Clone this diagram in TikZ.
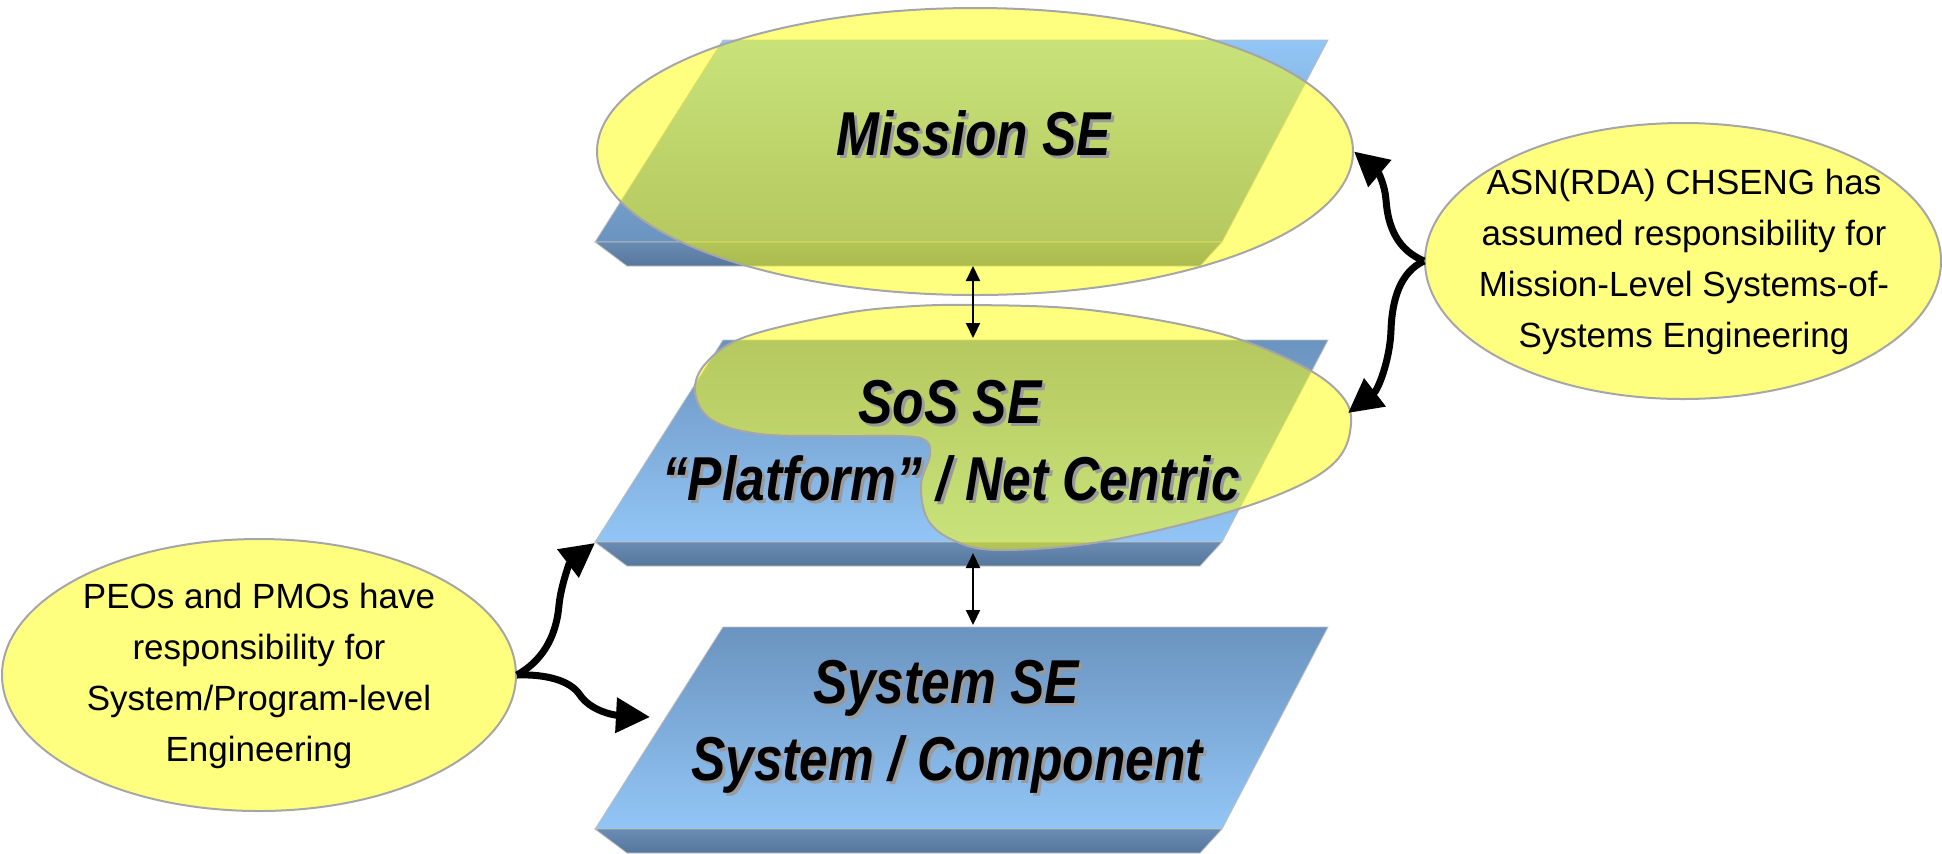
\documentclass[tikz,border=0pt]{standalone}
\usepackage{fontspec}
\setmainfont{Liberation Sans}
\newfontfamily\boxfont[FakeStretch=0.83]{Liberation Sans}
\usetikzlibrary{arrows.meta,shapes.geometric}

\definecolor{bluedark}{HTML}{6B93BF}
\definecolor{bluelight}{HTML}{92C6F6}
\definecolor{banddark}{HTML}{56779C}
\definecolor{bandlight}{HTML}{6A8CB3}
\definecolor{ellborder}{HTML}{A6A6A6}
\definecolor{shadowgray}{HTML}{9A9A9A}
\definecolor{ellyellow}{HTML}{FFFF00}

\tikzset{
  ellfill/.style={fill=ellyellow, fill opacity=0.5, draw=ellborder, draw opacity=1, line width=1pt},
  noteell/.style={ellfill, shape=ellipse, inner sep=0pt},
  notetext/.style={align=center, font=\fontsize{17.5pt}{25.5pt}\selectfont, inner sep=0pt},
  boxtext/.style={font=\boxfont\bfseries\itshape\fontsize{31pt}{38pt}\selectfont, inner sep=0pt, anchor=base},
  boxshadow/.style={boxtext, text=shadowgray},
  thinarrow/.style={line width=1pt, {Triangle[length=7.5pt,width=7pt]}-{Triangle[length=7.5pt,width=7pt]}},
  bigarrow/.style={line width=3.5pt, -{Triangle[length=17pt,width=17pt]}},
  slabedge/.style={draw=black!25, line width=0.4pt},
}

\newcommand\drawslab[4]{%
  \coordinate (#1TL) at (723,#2);
  \coordinate (#1TR) at (1328,#2);
  \coordinate (#1BR) at (1222,#2+202);
  \coordinate (#1BL) at (595,#2+202);
  \coordinate (#1SR) at (1200,#2+226);
  \coordinate (#1SL) at (627,#2+226);
  \path[top color=#3, bottom color=#4, slabedge] (#1TL) -- (#1TR) -- (#1BR) -- (#1BL) -- cycle;
  \path[top color=bandlight, bottom color=banddark, slabedge] (#1BL) -- (#1BR) -- (#1SR) -- (#1SL) -- cycle;
}

\begin{document}
\begin{tikzpicture}[x=0.5pt,y=-0.5pt]
\useasboundingbox (0,0) rectangle (1942,853);

% slabs
\drawslab{m}{40}{bluelight}{bluedark}
\drawslab{s}{340}{bluedark}{bluelight}
\drawslab{y}{627}{bluedark}{bluelight}

% mission ellipse
\node[noteell, minimum width=378pt, minimum height=143.5pt] (mell) at (975,151.5) {};

% SoS blob
\draw[ellfill] plot[smooth cycle, tension=0.6] coordinates {
  (973,305) (1090,310) (1218,333) (1304,367) (1345,400) (1350,432) (1335,462)
  (1294,488) (1218,515) (1100,542) (1000,550) (955,541) (928,520) (921,485)
  (930,455) (925,440) (900,436) (835,436) (760,434) (712,420) (695,392)
  (706,363) (745,337) (835,315) (900,307)};

% box texts
\node[boxshadow] (mtxtS) at (977,158) {Mission SE};
\node[boxtext] (mtxt) at (974,155) {Mission SE};
\node[boxshadow] (s1S) at (953,426) {SoS SE};
\node[boxtext] (s1) at (950,423) {SoS SE};
\node[boxshadow] (s2S) at (954,503) {“Platform” / Net Centric};
\node[boxtext] (s2) at (951,500) {“Platform” / Net Centric};
\node[boxshadow] (y1S) at (949,706) {System SE};
\node[boxtext] (y1) at (946,703) {System SE};
\node[boxshadow] (y2S) at (950,783) {System / Component};
\node[boxtext] (y2) at (947,780) {System / Component};

% note ellipses
\node[noteell, minimum width=258pt, minimum height=138pt] (rnote) at (1683,261) {};
\node[notetext] (rnotetxt) at (1684,262) {ASN(RDA) CHSENG has\\assumed responsibility for\\Mission-Level Systems-of-\\Systems Engineering};
\node[noteell, minimum width=257pt, minimum height=136pt] (lnote) at (259,675) {};
\node[notetext] (lnotetxt) at (259,676) {PEOs and PMOs have\\responsibility for\\System/Program-level\\Engineering};

% connector end points
\coordinate (sosR) at (1348,413);
\coordinate (sosBL) at (595,543);
\coordinate (sysL) at (650,717);
\coordinate (mbot) at (973,266);
\coordinate (stop) at (973,338);
\coordinate (sbot) at (973,553);
\coordinate (ytop) at (973,625);

% arrows
\draw[thinarrow] (mbot) -- (stop);
\draw[thinarrow] (sbot) -- (ytop);
\draw[bigarrow] (rnote.west) .. controls (1398,250) and (1388,228) .. (1386,200) .. controls (1385,185) and (1378,172) .. (mell.east);
\draw[bigarrow] (rnote.west) .. controls (1400,272) and (1392,300) .. (1391,330) .. controls (1390,360) and (1378,390) .. (sosR);
\draw[bigarrow] (lnote.east) .. controls (540,662) and (556,640) .. (559,605) .. controls (561,585) and (570,562) .. (sosBL);
\draw[bigarrow] (lnote.east) .. controls (545,674) and (570,680) .. (580,695) .. controls (590,710) and (612,715) .. (sysL);
\end{tikzpicture}
\end{document}
